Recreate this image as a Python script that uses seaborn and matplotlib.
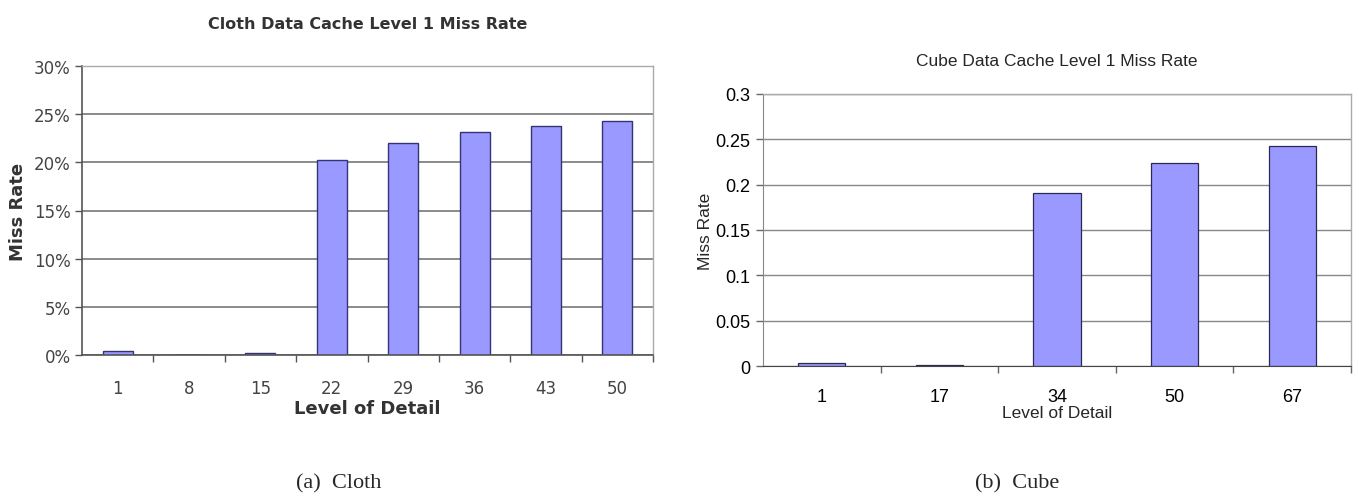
"""Recreate the two L1 data cache miss rate bar charts (Cloth and Cube)."""

import numpy as np
import pandas as pd
import matplotlib
matplotlib.use("Agg")
import matplotlib.pyplot as plt
import seaborn as sns
from matplotlib.ticker import FixedLocator

# data
cloth_lod = ["1", "8", "15", "22", "29", "36", "43", "50"]
cloth_miss = [0.004, 0.0, 0.002, 0.202, 0.220, 0.231, 0.238, 0.243]

cube_lod = ["1", "17", "34", "50", "67"]
cube_miss = [0.003, 0.001, 0.191, 0.224, 0.243]

cloth_yticks = [0, 0.05, 0.10, 0.15, 0.20, 0.25, 0.30]
cloth_ytick_labels = ["0%", "5%", "10%", "15%", "20%", "25%", "30%"]
cube_yticks = [0, 0.05, 0.1, 0.15, 0.2, 0.25, 0.3]
cube_ytick_labels = ["0", "0.05", "0.1", "0.15", "0.2", "0.25", "0.3"]

bar_color = "#9999ff"

sns.set_style("white")
plt.rcParams["font.family"] = ["Liberation Sans", "DejaVu Sans"]

fig = plt.figure(figsize=(13.59, 5.02), dpi=100)

############################################
# left chart: Cloth (blurry, wide font -> DejaVu Sans)
wide = ["DejaVu Sans"]
ax1 = fig.add_axes([82 / 1359, 1 - 356 / 502, (653 - 82) / 1359, (356 - 67) / 502])
df_cloth = pd.DataFrame({"lod": cloth_lod, "miss": cloth_miss})
sns.barplot(data=df_cloth, x="lod", y="miss", ax=ax1, color=bar_color,
            saturation=1, width=0.42, edgecolor="#333377", linewidth=1.0)
ax1.set_ylim(0, 0.30)
ax1.set_xlim(-0.5, len(cloth_lod) - 0.5)
ax1.yaxis.set_major_locator(FixedLocator(cloth_yticks))
ax1.set_yticklabels(cloth_ytick_labels, family=wide)
ax1.set_xticks(range(len(cloth_lod)))
ax1.set_xticklabels(cloth_lod, family=wide)
ax1.grid(axis="y", color="#777777", linewidth=1.2)
ax1.set_axisbelow(True)
for side in ["top", "right"]:
    ax1.spines[side].set_color("#aaaaaa")
    ax1.spines[side].set_linewidth(1.0)
for side in ["left", "bottom"]:
    ax1.spines[side].set_color("#555555")
    ax1.spines[side].set_linewidth(1.2)
ax1.tick_params(axis="y", left=True, length=5, width=1, color="#555555",
                labelsize=12, labelcolor="#444444", pad=3)
ax1.tick_params(axis="x", bottom=False, labelsize=12, labelcolor="#444444", pad=14)
ax1.set_xticks(np.arange(len(cloth_lod)) + 0.5, minor=True)
ax1.tick_params(axis="x", which="minor", bottom=True, length=5, width=1, color="#555555")
ax1.set_xlabel("Level of Detail", fontsize=13, fontweight="bold", color="#333333",
               labelpad=1, family=wide)
ax1.set_ylabel("Miss Rate", fontsize=13, fontweight="bold", color="#333333", family=wide)
ax1.yaxis.set_label_coords(-0.096, 0.5)
ax1.set_title("Cloth Data Cache Level 1 Miss Rate", fontsize=11.5, fontweight="bold",
              color="#333333", pad=27, family=wide)

############################################
# right chart: Cube
ax2 = fig.add_axes([763 / 1359, 1 - 367 / 502, (1351 - 763) / 1359, (367 - 95) / 502])
df_cube = pd.DataFrame({"lod": cube_lod, "miss": cube_miss})
sns.barplot(data=df_cube, x="lod", y="miss", ax=ax2, color=bar_color,
            saturation=1, width=0.40, edgecolor="#2a2a55", linewidth=0.9)
ax2.set_ylim(0, 0.30)
ax2.set_xlim(-0.5, len(cube_lod) - 0.5)
ax2.yaxis.set_major_locator(FixedLocator(cube_yticks))
ax2.set_yticklabels(cube_ytick_labels)
ax2.grid(axis="y", color="#888888", linewidth=1.0)
ax2.set_axisbelow(True)
for side in ["top", "right"]:
    ax2.spines[side].set_color("#aaaaaa")
    ax2.spines[side].set_linewidth(1.0)
ax2.spines["left"].set_color("#888888")
ax2.spines["bottom"].set_color("#444444")
ax2.tick_params(axis="y", left=True, length=5, width=1, color="#666666",
                labelsize=13, labelcolor="black", pad=4)
ax2.tick_params(axis="x", bottom=False, labelsize=13, labelcolor="black", pad=12)
ax2.set_xticks(np.arange(len(cube_lod)) + 0.5, minor=True)
ax2.tick_params(axis="x", which="minor", bottom=True, length=5, width=1, color="#666666")
ax2.set_xlabel("Level of Detail", fontsize=12.5, labelpad=0)
ax2.set_ylabel("Miss Rate", fontsize=12.5)
ax2.yaxis.set_label_coords(-0.085, 0.5)
ax2.set_title("Cube Data Cache Level 1 Miss Rate", fontsize=12.5, pad=21)

############################################
# captions under the charts
serif = ["Liberation Serif", "DejaVu Serif"]
fig.text(339 / 1359, 1 - 484 / 502, "(a)  Cloth", ha="center", va="center",
         fontsize=16, family=serif)
fig.text(1017 / 1359, 1 - 484 / 502, "(b)  Cube", ha="center", va="center",
         fontsize=16, family=serif)

fig.savefig("out.png", dpi=100)
